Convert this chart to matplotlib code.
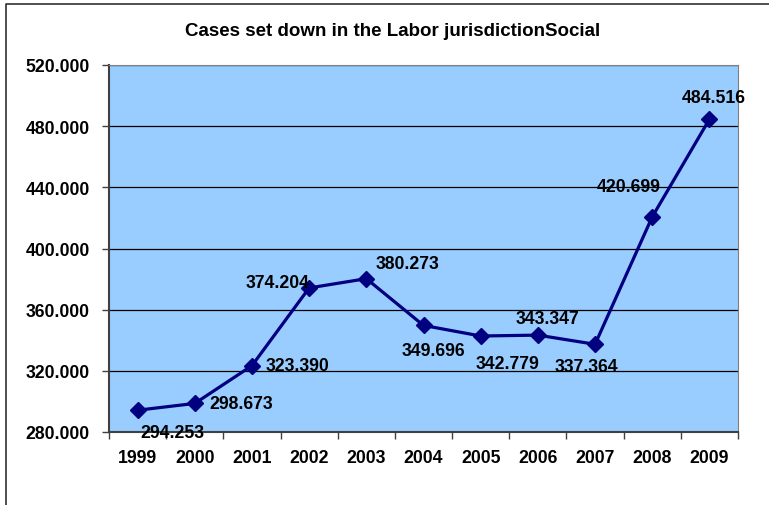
import matplotlib.pyplot as plt
from matplotlib.lines import Line2D
from matplotlib.ticker import FuncFormatter, MultipleLocator

years = ['1999', '2000', '2001', '2002', '2003', '2004', '2005', '2006', '2007', '2008', '2009']
cases = [294253, 298673, 323390, 374204, 380273, 349696, 342779, 343347, 337364, 420699, 484516]
labels = ['294.253', '298.673', '323.390', '374.204', '380.273', '349.696',
          '342.779', '343.347', '337.364', '420.699', '484.516']
# where each value label sits relative to its marker (pixels)
label_offsets = [(35, -22), (46, 0), (46, 0), (-32, 5), (41, 15), (10, -25),
                 (27, -27), (10, 17), (-9, -22), (-24, 30), (4, 22)]

plt.rcParams['font.family'] = ['Liberation Sans', 'DejaVu Sans']

fig = plt.figure(figsize=(7.69, 5.06), dpi=100)
ax = fig.add_axes([109 / 769, 73 / 506, 629 / 769, 367 / 506])
ax.set_facecolor('#99CCFF')

x = list(range(len(years)))
ax.plot(x, cases, color='#000080', linewidth=2.3, marker='D', markersize=8.5, zorder=3)

for i in x:
    ax.annotate(labels[i], (i, cases[i]), xytext=label_offsets[i], textcoords='offset pixels',
                ha='center', va='center', fontsize=12.7, fontweight='bold', color='black', zorder=4)

ax.set_xlim(-0.5, len(years) - 0.5)
ax.set_ylim(280000, 520000)
ax.yaxis.set_major_locator(MultipleLocator(40000))
ax.yaxis.set_major_formatter(FuncFormatter(lambda v, p: f'{v / 1000:.3f}'))
ax.grid(axis='y', color='black', linewidth=0.9)
ax.set_axisbelow(True)

ax.set_xticks(x)
ax.set_xticklabels(years)
ax.set_xticks([i - 0.5 for i in range(len(years) + 1)], minor=True)
ax.tick_params(axis='x', which='major', length=0, pad=12)
ax.tick_params(axis='x', which='minor', length=5, width=1, color='#404040', direction='out')
ax.tick_params(axis='y', length=5, width=1, color='#404040', pad=9)
for lab in ax.get_xticklabels() + ax.get_yticklabels():
    lab.set_fontsize(12.7)
    lab.set_fontweight('bold')

ax.spines['left'].set_color('#404040')
ax.spines['bottom'].set_color('#404040')
ax.spines['left'].set_linewidth(1.5)
ax.spines['bottom'].set_linewidth(1.5)
ax.spines['top'].set_color('#808080')
ax.spines['right'].set_color('#808080')

fig.text(393 / 769, 1 - 31 / 506, 'Cases set down in the Labor jurisdictionSocial',
         ha='center', va='center', fontsize=13.5, fontweight='bold')

# outer chart frame (only left and top edges are visible)
fig.add_artist(Line2D([6 / 769, 6 / 769, 1], [0, 1 - 5 / 506, 1 - 5 / 506],
                      color='#303030', linewidth=1.2))

fig.savefig('out.png', dpi=100)
